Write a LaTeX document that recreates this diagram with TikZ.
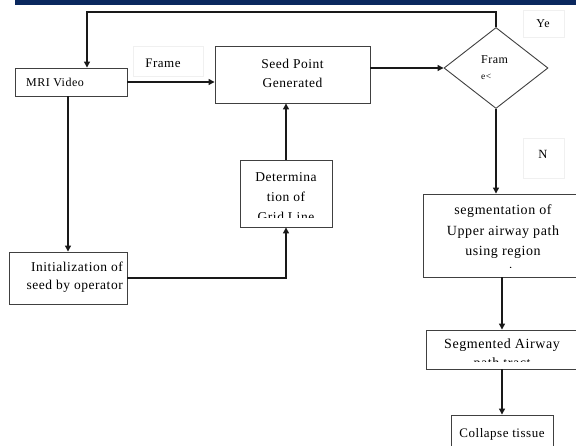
\documentclass[tikz,border=0pt]{standalone}
\usepackage{fontspec}
\setmainfont{Liberation Serif}[LetterSpace=4]
\usetikzlibrary{positioning,shapes.geometric,arrows.meta}

\definecolor{barblue}{RGB}{10,40,94}
\definecolor{boxgray}{RGB}{64,64,64}

\tikzset{
  box/.style={draw=boxgray, line width=0.9pt, fill=white, inner sep=0pt},
  lbl/.style={draw=gray!12, line width=0.6pt, inner sep=0pt},
  txt/.style={inner sep=0pt, font=\fontsize{13.5}{20}\selectfont, align=center},
  arr/.style={draw=black!90, line width=1.2pt, -{Triangle[width=6pt,length=6pt]}}
}

\begin{document}
\begin{tikzpicture}[x=1pt,y=-1pt]
    \clip (0,0) rectangle (576,446);
    \fill[white] (0,0) rectangle (576,446);

    % header bar
    \fill[barblue] (15,0) rectangle (576,5);

    % the boxes
    \node[box, minimum width=112pt, minimum height=28pt] (mri) at (71,82) {};
    \node[txt, anchor=west, font=\fontsize{12}{14}\selectfont] (mritext) at (26,82) {MRI Video};

    \node[box, minimum width=155pt, minimum height=57pt] (seed) at (292.5,74.5)
      {\fontsize{13.5}{20}\selectfont\begin{tabular}{@{}c@{}}Seed Point\\[-1pt]Generated\end{tabular}};

    \node[box, diamond, minimum width=104pt, minimum height=81pt] (dec) at (496,68) {};
    \node[txt, anchor=west, font=\fontsize{12}{14}\selectfont] (dectext) at (481,60) {Fram};
    \node[txt, anchor=west, font=\fontsize{9.5}{11}\selectfont] (dectext2) at (481,77) {e<};

    \node[box, minimum width=92pt, minimum height=67pt] (det) at (286,193.5) {};
    \node[box, minimum width=118pt, minimum height=52pt] (init) at (68,278) {};
    \node[txt, anchor=east, align=right, font=\fontsize{13.5}{18}\selectfont] (inittext) at (123,277)
      {Initialization of\\seed by operator};

    \node[box, minimum width=160pt, minimum height=83pt] (seg) at (503,235.5) {};
    \node[box, minimum width=152pt, minimum height=39pt] (segair) at (502,349.5) {};
    \node[box, minimum width=102pt, minimum height=40pt] (collapse) at (502,435)
      {\raisebox{5pt}{\fontsize{13}{15}\selectfont Collapse tissue}};

    % texts cut off by their boxes
    \begin{scope}
      \clip (240,160) rectangle (332,218);
      \node[txt] (dettext) at (286,197) {Determina\\tion of\\Grid Line};
    \end{scope}
    \begin{scope}
      \clip (423,194) rectangle (583,268);
      \node[txt, font=\fontsize{14}{20.5}\selectfont] (segtext) at (503,242)
        {segmentation of\\Upper airway path\\using region\\growing};
    \end{scope}
    \begin{scope}
      \clip (426,330) rectangle (578,362);
      \node[txt, font=\fontsize{14}{19}\selectfont] (segairtext) at (502,355)
        {Segmented Airway\\path tract};
    \end{scope}

    % small labels
    \node[lbl, minimum width=70pt, minimum height=30pt] (framelbl) at (168,61) {};
    \node[txt, font=\fontsize{13}{15}\selectfont] (frametext) at (163,63) {Frame};
    \node[lbl, minimum width=41pt, minimum height=27pt] (yelbl) at (543.5,23.5) {};
    \node[txt, font=\fontsize{12}{14}\selectfont] (yetext) at (543,24) {Ye};
    \node[lbl, minimum width=41pt, minimum height=40pt] (nlbl) at (543.5,158) {};
    \node[txt, font=\fontsize{12.5}{14}\selectfont] (ntext) at (543,154) {N};

    % connectors
    \coordinate (fbtop) at (87,12);
    \draw[arr] (dec.north) |- (fbtop) -- (fbtop |- mri.north);
    \draw[arr] (mri.east) -- (mri.east -| seed.west);
    \draw[arr] (dec.west -| seed.east) -- (dec.west);
    \draw[arr] (mri.south -| init.north) -- (init.north);
    \draw[arr] (init.east) -| (det.south);
    \draw[arr] (det.north) -- (det.north |- seed.south);
    \draw[arr] (dec.south) -- (dec.south |- seg.north);
    \draw[arr] (seg.south -| segair.north) -- (segair.north);
    \draw[arr] (segair.south) -- (collapse.north);

\end{tikzpicture}
\end{document}
